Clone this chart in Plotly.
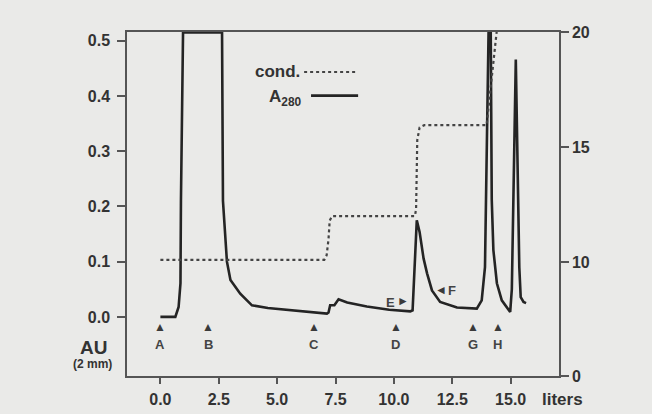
import plotly.graph_objects as go

# ---- data ----
a280_x = [0, 0.64, 0.78, 0.86, 0.88, 0.97, 2.64, 2.68, 2.85, 3.0, 3.42, 3.92, 4.6, 5.7, 7.13,
          7.2, 7.27, 7.45, 7.55, 7.63, 8.0, 8.84, 9.8, 10.7, 10.8, 10.9, 10.98, 11.1, 11.27,
          11.42, 11.63, 11.98, 12.7, 13.55, 13.76, 13.9, 14.12, 14.19, 14.26, 14.41, 14.62,
          14.98, 15.05, 15.22, 15.33, 15.37, 15.43, 15.55, 15.66]
a280_y = [0.0, 0.0, 0.018, 0.061, 0.21, 0.515, 0.515, 0.21, 0.1, 0.067, 0.042, 0.021, 0.016,
          0.012, 0.006, 0.008, 0.021, 0.021, 0.028, 0.032, 0.026, 0.019, 0.013, 0.010, 0.012,
          0.09, 0.175, 0.154, 0.106, 0.079, 0.048, 0.027, 0.017, 0.015, 0.03, 0.09, 0.7,
          0.212, 0.121, 0.061, 0.030, 0.009, 0.05, 0.466, 0.212, 0.09, 0.036, 0.027, 0.025]

cond_x = [0, 7.02, 7.12, 7.2, 7.25, 7.35, 10.9, 10.95, 11.0, 11.1, 11.3, 13.97, 14.4]
cond_y = [10.1, 10.1, 10.3, 11.0, 11.8, 12.0, 12.0, 12.3, 15.3, 15.85, 15.95, 15.95, 20.0]

marker_labels = ["A", "B", "C", "D", "G", "H"]
marker_x = [0.0, 2.04, 6.59, 10.08, 13.38, 14.45]

x_ticks = [0, 2.5, 5, 7.5, 10, 12.5, 15]
x_tick_text = ["0.0", "2.5", "5.0", "7.5", "10.0", "12.5", "15.0"]
y_ticks = [0, 0.1, 0.2, 0.3, 0.4, 0.5]
y_tick_text = ["0.0", "0.1", "0.2", "0.3", "0.4", "0.5"]
y2_ticks = [5.05, 10, 15, 20]
y2_tick_text = ["0", "10", "15", "20"]

# ---- style ----
INK = "#242424"
TXT = "#333333"
AX = "#555555"
BG = "#eaeae8"
FONT = "Liberation Sans, Arial, sans-serif"


def f(size, color=TXT):
    return dict(size=size, color=color, family=FONT, weight=700)


fig = go.Figure()
fig.add_trace(go.Scatter(x=cond_x, y=cond_y, mode="lines", yaxis="y2",
                         line=dict(color="#444444", width=2.2, dash="dot"),
                         showlegend=False, hoverinfo="skip"))
fig.add_trace(go.Scatter(x=a280_x, y=a280_y, mode="lines",
                         line=dict(color=INK, width=2.6),
                         showlegend=False, hoverinfo="skip"))

annotations = []
for lab, xv in zip(marker_labels, marker_x):
    annotations.append(dict(x=xv, y=-0.019, xref="x", yref="y", text="▲", showarrow=False,
                            font=f(12, "#3a3a3a")))
    annotations.append(dict(x=xv, y=-0.05, xref="x", yref="y", text=lab, showarrow=False,
                            font=f(13, "#444444")))

annotations += [
    dict(x=10.14, y=0.027, xref="x", yref="y", text="E", xanchor="right",
         showarrow=False, font=f(13, "#444444")),
    dict(x=10.72, y=0.028, xref="x", yref="y", text="►", xanchor="right",
         showarrow=False, font=f(12, "#3a3a3a")),
    dict(x=11.66, y=0.049, xref="x", yref="y", text="◄", xanchor="left",
         showarrow=False, font=f(12, "#3a3a3a")),
    dict(x=12.25, y=0.047, xref="x", yref="y", text="F", xanchor="left",
         showarrow=False, font=f(13, "#444444")),
    dict(x=0.405, y=0.885, xref="paper", yref="paper", text="cond.", xanchor="right",
         yanchor="middle", showarrow=False, font=f(17)),
    dict(x=0.41, y=0.808, xref="paper", yref="paper", text="A<sub>280</sub>", xanchor="right",
         yanchor="middle", showarrow=False, font=f(17)),
    dict(x=-0.077, y=0.084, xref="paper", yref="paper", text="AU", showarrow=False,
         xanchor="center", yanchor="middle", font=f(19)),
    dict(x=-0.079, y=0.034, xref="paper", yref="paper", text="(2 mm)", showarrow=False,
         xanchor="center", yanchor="middle", font=f(12)),
    dict(x=1.009, y=-0.068, xref="paper", yref="paper", text="liters", showarrow=False,
         xanchor="center", yanchor="middle", font=f(17)),
]

shapes = [
    dict(type="line", xref="paper", yref="paper", x0=0.41, x1=0.535, y0=0.884, y1=0.884,
         line=dict(color="#444444", width=2.0, dash="dot")),
    dict(type="line", xref="paper", yref="paper", x0=0.426, x1=0.535, y0=0.815, y1=0.815,
         line=dict(color=INK, width=2.6)),
]

axis_common = dict(showgrid=False, zeroline=False, showline=True, linecolor=AX, linewidth=1.5,
                   ticks="outside", tickwidth=1.5, tickcolor=AX, tickfont=f(16),
                   automargin=False)

fig.update_layout(
    width=652, height=414,
    margin=dict(l=127, r=93, t=32, b=38),
    paper_bgcolor=BG, plot_bgcolor=BG,
    font=dict(family=FONT, color=TXT),
    annotations=annotations, shapes=shapes,
    xaxis=dict(range=[-1.43, 17.07], tickvals=x_ticks, ticktext=x_tick_text,
               mirror=True, ticklen=6, ticklabelstandoff=2, **axis_common),
    yaxis=dict(range=[-0.107, 0.516], tickvals=y_ticks, ticktext=y_tick_text,
               mirror=True, ticklen=8, ticklabelstandoff=4, **axis_common),
    yaxis2=dict(range=[5.05, 20], overlaying="y", side="right", tickvals=y2_ticks,
                ticktext=y2_tick_text, ticklen=8, **axis_common),
)

fig.write_html("out.html", post_script="document.body.style.margin='0';",
               config={"displayModeBar": False})
